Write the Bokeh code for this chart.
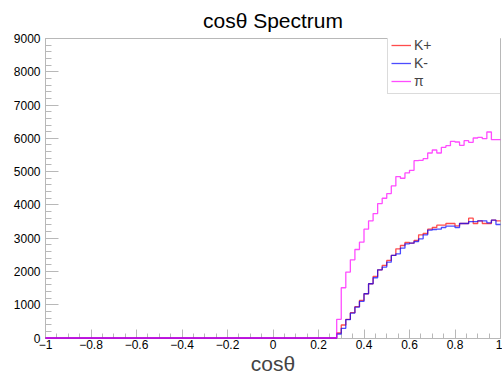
import numpy as np
from bokeh.plotting import figure
from bokeh.models import Range1d, FixedTicker, CustomJSTickFormatter, Legend, LegendItem
from bokeh.embed import file_html
from bokeh.resources import INLINE

# ---- data: 100 bins of cos(theta) over [-1, 1]; bins below 0.28 are empty ----
n_bins = 100
x_min, x_max = -1.0, 1.0
empty_bins = [0] * 64   # bins -1.00 ... 0.26 are all empty

# bins 0.28 ... 0.98
k_plus_counts = [150, 390, 560, 760, 940, 1130, 1330, 1630, 1850, 2050,
                 2180, 2330, 2480, 2680, 2780, 2870, 2850, 2930, 3100, 3140,
                 3270, 3320, 3390, 3390, 3440, 3440, 3370, 3440, 3440, 3600,
                 3440, 3520, 3440, 3440, 3540, 3520]
k_minus_counts = [120, 290, 550, 750, 930, 1100, 1330, 1630, 1810, 2050,
                  2130, 2280, 2480, 2530, 2700, 2830, 2850, 2900, 2980, 3100,
                  3240, 3260, 3270, 3320, 3360, 3360, 3320, 3440, 3440, 3500,
                  3500, 3520, 3520, 3460, 3540, 3410]
pi_counts = [560, 1510, 1980, 2350, 2660, 2880, 3270, 3520, 3740, 4040,
             4200, 4340, 4570, 4850, 4800, 4960, 5040, 5330, 5340, 5390,
             5560, 5650, 5560, 5730, 5780, 5910, 5890, 5790, 5930, 5880,
             6010, 6030, 5990, 6190, 5960, 5960]

series_names = ["K+", "K-", "\u03c0"]
series_colors = ["#ff0000", "#0000ff", "#ff00ff"]

x_major_ticks = [-1.0, -0.8, -0.6, -0.4, -0.2, 0.0, 0.2, 0.4, 0.6, 0.8, 1.0]
y_major_ticks = [0, 1000, 2000, 3000, 4000, 5000, 6000, 7000, 8000, 9000]

edges = np.round(np.linspace(x_min, x_max, n_bins + 1), 4)

FONT = "Liberation Sans"
GREY = "#b8b8b8"

p = figure(width=502, height=377, output_backend="svg", toolbar_location=None,
           x_range=Range1d(-1, 1), y_range=Range1d(-15, 9000),
           min_border_left=45, min_border_right=2, min_border_top=36,
           min_border_bottom=39, title="cos\u03b8 Spectrum")

p.title.align = "center"
p.title.text_font = FONT
p.title.text_font_size = "21px"
p.title.text_font_style = "normal"
p.title.text_color = "#000000"
p.title.standoff = 13

p.outline_line_color = GREY
p.xgrid.visible = False
p.ygrid.visible = False

# x axis
xa = p.xaxis[0]
xa.ticker = FixedTicker(ticks=x_major_ticks,
                        minor_ticks=list(np.round(np.arange(-1, 1.0001, 0.05), 3)))
xa.formatter = CustomJSTickFormatter(
    code="var v = Math.round(tick*10)/10; return v.toString().replace('-', '\u2212');")
xa.major_tick_in = 9
xa.major_tick_out = 0
xa.minor_tick_in = 5
xa.minor_tick_out = 0
xa.axis_line_color = GREY
xa.major_tick_line_color = GREY
xa.minor_tick_line_color = GREY
xa.major_label_text_font = FONT
xa.major_label_text_font_size = "12px"
xa.major_label_text_color = "#000000"
xa.major_label_standoff = 1
xa.axis_label = "cos\u03b8"
xa.axis_label_text_font = FONT
xa.axis_label_text_font_size = "21px"
xa.axis_label_text_font_style = "normal"
xa.axis_label_standoff = 0

# y axis
ya = p.yaxis[0]
ya.ticker = FixedTicker(ticks=y_major_ticks, minor_ticks=list(range(0, 9001, 200)))
ya.major_tick_in = 13
ya.major_tick_out = 0
ya.minor_tick_in = 6
ya.minor_tick_out = 0
ya.axis_line_color = GREY
ya.major_tick_line_color = GREY
ya.minor_tick_line_color = GREY
ya.major_label_text_font = FONT
ya.major_label_text_font_size = "12px"
ya.major_label_text_color = "#000000"
ya.major_label_standoff = 5

items = []
for name, col, counts in zip(series_names, series_colors,
                             [k_plus_counts, k_minus_counts, pi_counts]):
    vals = list(empty_bins) + list(counts)
    r = p.step(x=edges, y=vals + [vals[-1]], mode="after", line_color=col,
               line_width=1.3, line_alpha=0.7, level="overlay")
    items.append(LegendItem(label=name, renderers=[r]))

legend = Legend(items=items, location=(342, 244))
legend.border_line_color = GREY
legend.background_fill_color = "white"
legend.background_fill_alpha = 1.0
legend.padding = 3
legend.spacing = 0
legend.margin = 0
legend.glyph_width = 20
legend.glyph_height = 18
legend.label_height = 18
legend.label_width = 85
legend.label_standoff = 3
legend.label_text_font = FONT
legend.label_text_font_size = "14px"
p.add_layout(legend)

open("out.html", "w").write(file_html(p, INLINE))
